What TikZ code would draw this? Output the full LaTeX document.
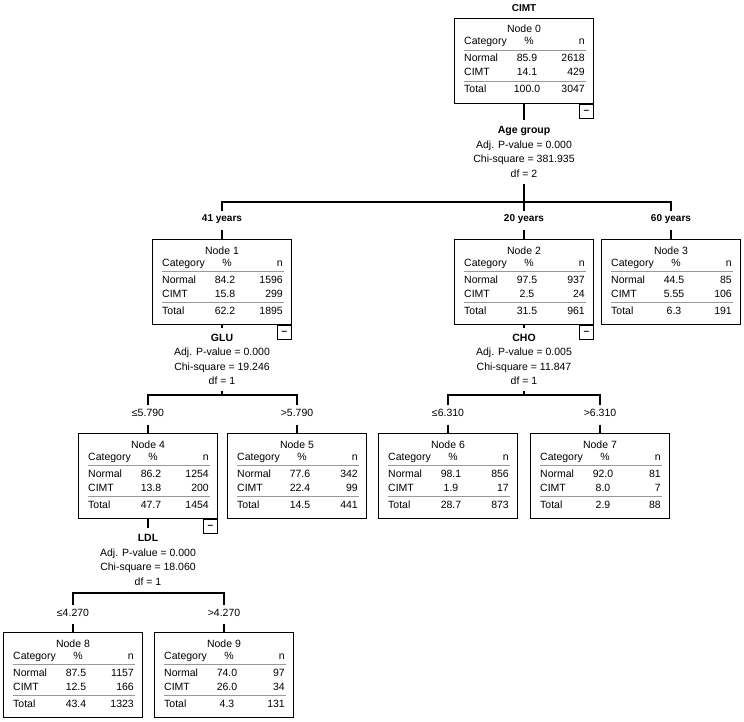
\documentclass[tikz,border=0pt]{standalone}
\usepackage{fontspec}
\setmainfont{Liberation Sans}
\usetikzlibrary{positioning}

% Boite d'un noeud : numero, x, y (haut), puis %/n pour Normal, CIMT, Total
\newcommand{\catnode}[9]{%
  \node [catbox, anchor=north] (n#1) at (#2,#3) {};
  \begin{scope}[shift={(#2,#3)}]
    \node [cell, anchor=base] (n#1h) at (0,15) {Node #1};
    \node [cell, anchor=base west] (n#1c) at (-60,27) {Category};
    \node [cell, anchor=base] (n#1p) at (5,27) {\%};
    \node [cell, anchor=base east] (n#1n) at (61,27) {n};
    \draw [rule] (-60,32) -- (62,32);
    \node [cell, anchor=base west] (n#1a) at (-60,44) {Normal};
    \node [cell, anchor=base] (n#1ap) at (3,44) {#4};
    \node [cell, anchor=base east] (n#1an) at (61,44) {#5};
    \node [cell, anchor=base west] (n#1b) at (-60,58) {CIMT};
    \node [cell, anchor=base] (n#1bp) at (3,58) {#6};
    \node [cell, anchor=base east] (n#1bn) at (61,58) {#7};
    \draw [rule] (-60,63) -- (62,63);
    \node [cell, anchor=base west] (n#1t) at (-60,75) {Total};
    \node [cell, anchor=base] (n#1tp) at (3,75) {#8};
    \node [cell, anchor=base east] (n#1tn) at (61,75) {#9};
  \end{scope}}

\begin{document}
\begin{tikzpicture}[x=1pt, y=-1pt, font=\fontsize{10.5pt}{14.5pt}\selectfont]
        % Définition des styles
        \tikzstyle{catbox} = [draw, line width=1pt, minimum width=139pt, minimum height=85pt, inner sep=0pt]
        \tikzstyle{cell} = [inner sep=0pt]
        \tikzstyle{rule} = [draw=black!40, line width=0.8pt]
        \tikzstyle{minusbox} = [draw, line width=1pt, minimum size=14pt, inner sep=0pt, font=\bfseries]
        \tikzstyle{split} = [align=center, inner xsep=2pt, inner ysep=6pt]
        \tikzstyle{branch} = [inner xsep=2pt, inner ysep=0pt, text height=11pt, text depth=8pt]
        \tikzstyle{link} = [draw, line width=1.1pt]

        \useasboundingbox (0,0) rectangle (744,722);

        % Titre
        \node [cell, anchor=base, font=\bfseries] (cimt) at (524,12) {CIMT};

        % Noeuds de l'arbre
        \catnode{0}{524}{18}{85.9}{2618}{14.1}{429}{100.0}{3047}
        \catnode{1}{222}{239}{84.2}{1596}{15.8}{299}{62.2}{1895}
        \catnode{2}{524}{239}{97.5}{937}{2.5}{24}{31.5}{961}
        \catnode{3}{671}{239}{44.5}{85}{5.55}{106}{6.3}{191}
        \catnode{4}{148}{433}{86.2}{1254}{13.8}{200}{47.7}{1454}
        \catnode{5}{297}{433}{77.6}{342}{22.4}{99}{14.5}{441}
        \catnode{6}{448}{433}{98.1}{856}{1.9}{17}{28.7}{873}
        \catnode{7}{600}{433}{92.0}{81}{8.0}{7}{2.9}{88}
        \catnode{8}{73}{632}{87.5}{1157}{12.5}{166}{43.4}{1323}
        \catnode{9}{224}{632}{74.0}{97}{26.0}{34}{4.3}{131}

        % Boutons de repli
        \node [minusbox, anchor=north east] (m0) at (n0.south east) {–};
        \node [minusbox, anchor=north east] (m1) at (n1.south east) {–};
        \node [minusbox, anchor=north east] (m2) at (n2.south east) {–};
        \node [minusbox, anchor=north east] (m4) at (n4.south east) {–};

        % Variables de division
        \node [split, anchor=north] (s0) at (524,120.4) {\textbf{Age group}\\Adj. P-value = 0.000\\Chi-square = 381.935\\df = 2};
        \node [split, anchor=north] (s1) at (222,327.9) {\textbf{GLU}\\Adj. P-value = 0.000\\Chi-square = 19.246\\df = 1};
        \node [split, anchor=north] (s2) at (524,327.9) {\textbf{CHO}\\Adj. P-value = 0.005\\Chi-square = 11.847\\df = 1};
        \node [split, anchor=north] (s4) at (148,528.4) {\textbf{LDL}\\Adj. P-value = 0.000\\Chi-square = 18.060\\df = 1};

        % Points de branchement
        \coordinate (b0) at (524,202);
        \coordinate (b1) at (222,395);
        \coordinate (b2) at (524,395);
        \coordinate (b4) at (148,593);

        % Etiquettes des branches
        \node [branch, anchor=base, font=\bfseries] (l1) at (222,222) {41 years};
        \node [branch, anchor=base, font=\bfseries] (l2) at (524,222) {20 years};
        \node [branch, anchor=base, font=\bfseries] (l3) at (671,222) {60 years};
        \node [branch, anchor=base] (l4) at (148,416.5) {≤5.790};
        \node [branch, anchor=base] (l5) at (297,416.5) {>5.790};
        \node [branch, anchor=base] (l6) at (448,416.5) {≤6.310};
        \node [branch, anchor=base] (l7) at (600,416.5) {>6.310};
        \node [branch, anchor=base] (l8) at (73,616) {≤4.270};
        \node [branch, anchor=base] (l9) at (224,616) {>4.270};

        % Connexions : noeud 0
        \draw [link] (n0) -- (s0);
        \draw [link] (s0) -- (b0);
        \draw [link] (b0) -| (l1);
        \draw [link] (b0) -- (l2);
        \draw [link] (b0) -| (l3);
        \draw [link] (l1) -- (n1);
        \draw [link] (l2) -- (n2);
        \draw [link] (l3) -- (n3);

        % Connexions : noeud 1
        \draw [link] (n1) -- (s1);
        \draw [link] (s1) -- (b1);
        \draw [link] (b1) -| (l4);
        \draw [link] (b1) -| (l5);
        \draw [link] (l4) -- (n4);
        \draw [link] (l5) -- (n5);

        % Connexions : noeud 2
        \draw [link] (n2) -- (s2);
        \draw [link] (s2) -- (b2);
        \draw [link] (b2) -| (l6);
        \draw [link] (b2) -| (l7);
        \draw [link] (l6) -- (n6);
        \draw [link] (l7) -- (n7);

        % Connexions : noeud 4
        \draw [link] (n4) -- (s4);
        \draw [link] (s4) -- (b4);
        \draw [link] (b4) -| (l8);
        \draw [link] (b4) -| (l9);
        \draw [link] (l8) -- (n8);
        \draw [link] (l9) -- (n9);

    \end{tikzpicture}
\end{document}
